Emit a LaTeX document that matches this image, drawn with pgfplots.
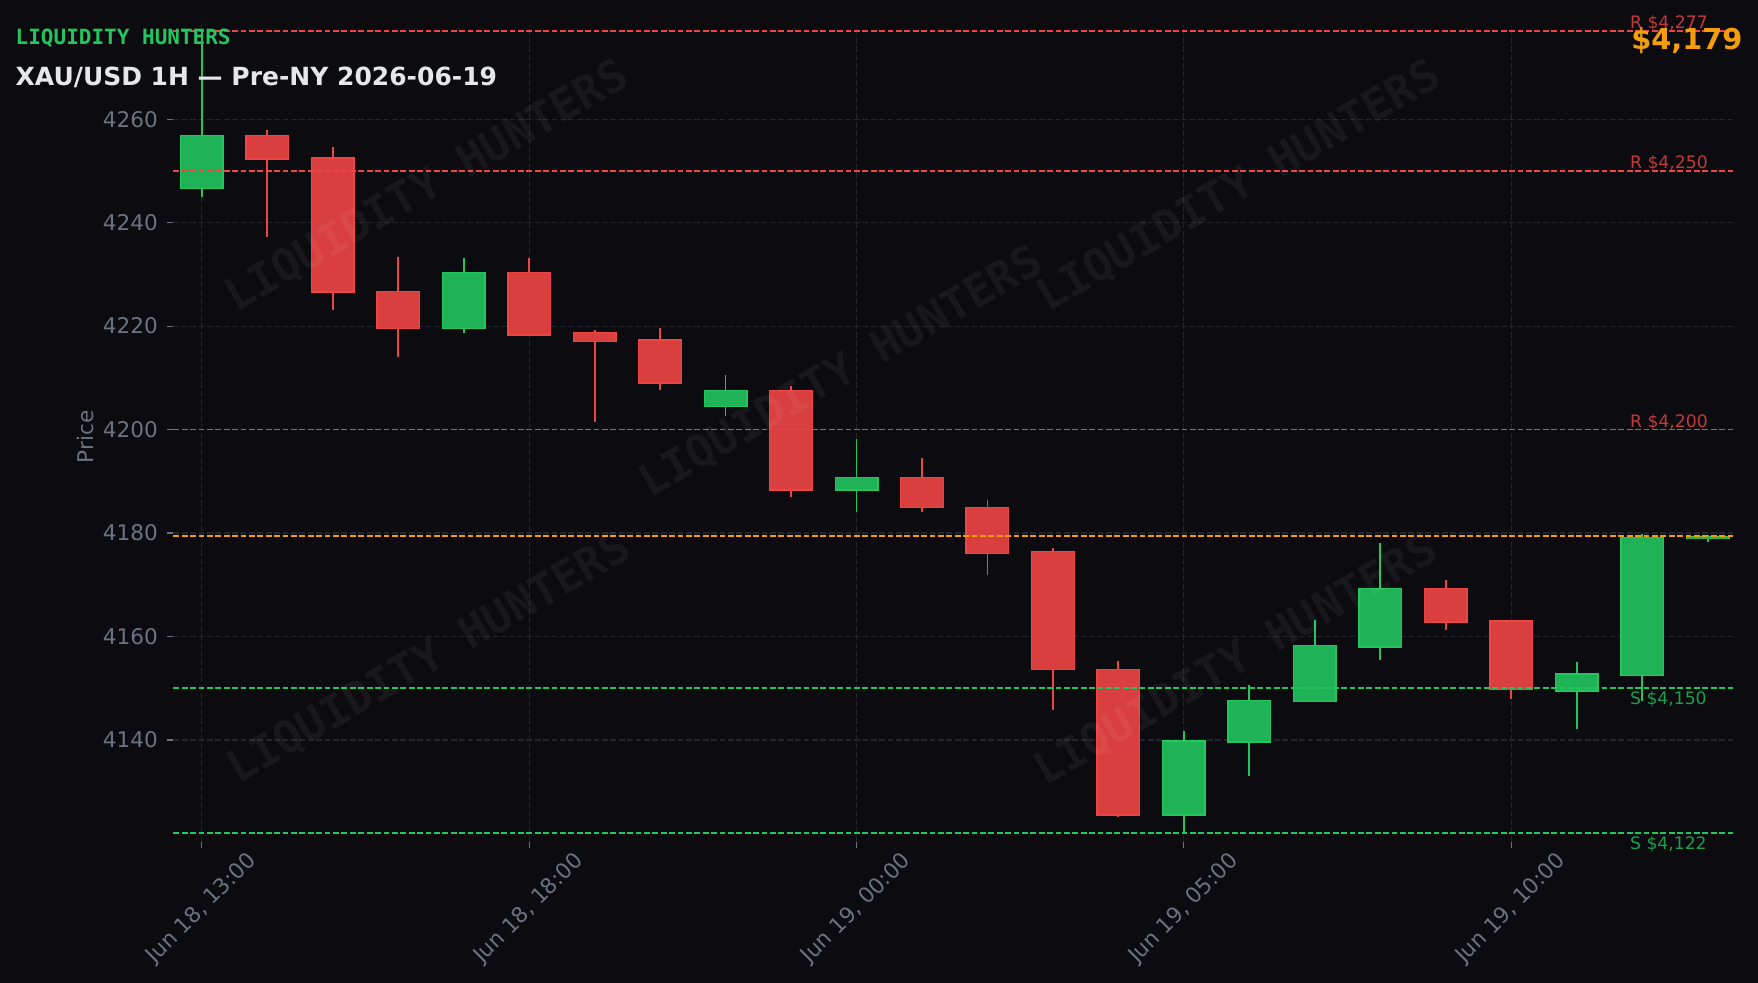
\documentclass[border=0pt]{standalone}
\usepackage{pgfplots}
\pgfplotsset{compat=1.18}
\usepackage{pgfplotstable}
\usepackage{fontspec}
\setmainfont{DejaVu Sans}
\newfontfamily\monofont{DejaVu Sans Mono}

\definecolor{bg}{HTML}{0B0B10}
\definecolor{upc}{HTML}{22C55E}
\definecolor{upfill}{HTML}{1FB257}
\definecolor{dnc}{HTML}{EF4444}
\definecolor{dnfill}{HTML}{D93F3F}
\definecolor{amber}{HTML}{F59E0B}
\definecolor{gridc}{HTML}{23242C}
\definecolor{tickc}{HTML}{6B7280}
\definecolor{titlec}{HTML}{E5E7EB}
\definecolor{rlab}{HTML}{C23A3A}
\definecolor{slab}{HTML}{1C9E4C}

% hourly candles, x = bar index
\pgfplotstableread{
x  o      h      l      c
0  4246.6 4277.0 4245.0 4256.8
4  4219.5 4233.2 4218.7 4230.4
8  4204.5 4210.5 4202.7 4207.5
10 4188.3 4198.2 4184.1 4190.8
15 4125.5 4141.8 4122.0 4139.8
16 4139.6 4150.7 4133.0 4147.7
17 4147.5 4163.3 4147.3 4158.3
18 4158.0 4178.0 4155.4 4169.3
21 4149.5 4155.0 4142.1 4152.8
22 4152.5 4179.9 4147.5 4179.2
23 4178.9 4179.7 4178.2 4179.3
}\upcandles
\pgfplotstableread{
x  o      h      l      c
1  4256.9 4257.9 4237.3 4252.3
2  4252.5 4254.6 4223.2 4226.6
3  4226.7 4233.4 4214.1 4219.5
5  4230.4 4233.2 4218.3 4218.3
6  4218.8 4219.2 4201.5 4217.0
7  4217.3 4219.6 4207.7 4209.0
9  4207.6 4208.4 4187.0 4188.3
11 4190.8 4194.5 4184.1 4185.0
12 4184.9 4186.3 4171.9 4176.1
13 4176.4 4177.2 4145.9 4153.6
14 4153.7 4155.2 4125.2 4125.5
19 4169.3 4170.9 4161.3 4162.8
20 4163.0 4163.0 4148.0 4149.8
}\downcandles

\pgfplotsset{
  wick/.style={draw=none, no markers, forget plot,
    error bars/.cd, y dir=both, y explicit, error mark=none,
    error bar style={draw=#1, line width=0.9pt}},
  body/.style 2 args={draw=none, no markers, forget plot,
    error bars/.cd, y dir=both, y explicit, error mark=none,
    error bar style={draw=#1, line width=#2}},
  level/.style={line width=0.85pt, dash pattern=on 2.9pt off 1.3pt, draw=#1},
}

\begin{document}
\begin{tikzpicture}
\fill[bg] (0,0) rectangle (879pt,491.5pt);

\begin{axis}[
    at={(86.75pt,70.65pt)}, anchor=south west,
    scale only axis, width=780.75pt, height=408.35pt,
    xmin=-0.432, xmax=23.418, ymin=4120.35, ymax=4278.2,
    clip=false,
    axis line style={draw=none},
    tick align=outside, major tick length=3pt,
    xtick pos=bottom, ytick pos=left,
    tick style={draw=tickc, line width=0.6pt},
    xtick={0,5,10,15,20},
    xticklabels={{Jun 18, 13:00},{Jun 18, 18:00},{Jun 19, 00:00},{Jun 19, 05:00},{Jun 19, 10:00}},
    ytick={4140,4160,...,4260},
    grid=major,
    major grid style={draw=gridc, line width=0.6pt, dash pattern=on 2.9pt off 1.3pt},
    tick label style={font=\fontsize{10.8}{13}\selectfont, text=tickc},
    /pgf/number format/assume math mode=true,
    /pgf/number format/1000 sep={},
    xticklabel style={anchor=center, yshift=-30.5pt, rotate=45},
    yticklabel style={anchor=east, inner sep=0pt, xshift=-4.6pt},
  ]
  % wicks
  \addplot[wick=upc] table[x=x, y expr={(\thisrow{h}+\thisrow{l})/2},
      y error expr={(\thisrow{h}-\thisrow{l})/2}] {\upcandles};
  \addplot[wick=dnc] table[x=x, y expr={(\thisrow{h}+\thisrow{l})/2},
      y error expr={(\thisrow{h}-\thisrow{l})/2}] {\downcandles};
  % bodies: edge then fill
  \addplot[body={upc}{22pt}] table[x=x, y expr={(\thisrow{o}+\thisrow{c})/2},
      y error expr={abs(\thisrow{c}-\thisrow{o})/2+0.13}] {\upcandles};
  \addplot[body={upfill}{20.6pt}] table[x=x, y expr={(\thisrow{o}+\thisrow{c})/2},
      y error expr={max(abs(\thisrow{c}-\thisrow{o})/2-0.13,0.02)}] {\upcandles};
  \addplot[body={dnc}{22pt}] table[x=x, y expr={(\thisrow{o}+\thisrow{c})/2},
      y error expr={abs(\thisrow{c}-\thisrow{o})/2+0.13}] {\downcandles};
  \addplot[body={dnfill}{20.6pt}] table[x=x, y expr={(\thisrow{o}+\thisrow{c})/2},
      y error expr={max(abs(\thisrow{c}-\thisrow{o})/2-0.13,0.02)}] {\downcandles};

  % support / resistance / last price
  \addplot[level=dnc] coordinates {(-0.432,4277) (23.418,4277)};
  \addplot[level=dnc] coordinates {(-0.432,4250) (23.418,4250)};
  \addplot[level=dnc] coordinates {(-0.432,4200) (23.418,4200)};
  \addplot[level=upc] coordinates {(-0.432,4150) (23.418,4150)};
  \addplot[level=upc] coordinates {(-0.432,4122) (23.418,4122)};
  \addplot[level=amber] coordinates {(-0.432,4179.4) (23.418,4179.4)};

  \begin{scope}[every node/.style={inner sep=0pt, font=\fontsize{8.6}{10}\selectfont}]
    \node[anchor=base west, text=rlab] at ([yshift=1.2pt]axis cs:21.81,4277) {R \$4,277};
    \node[anchor=base west, text=rlab] at ([yshift=1.2pt]axis cs:21.81,4250) {R \$4,250};
    \node[anchor=base west, text=rlab] at ([yshift=1.2pt]axis cs:21.81,4200) {R \$4,200};
    \node[anchor=north west, text=slab] at ([yshift=-1.6pt]axis cs:21.81,4150) {S \$4,150};
    \node[anchor=north west, text=slab] at ([yshift=-1.6pt]axis cs:21.81,4122) {S \$4,122};
  \end{scope}
\end{axis}

\node[rotate=90, text=tickc, font=\fontsize{10.8}{13}\selectfont] at (42.5pt,273.15pt) {Price};

\node[anchor=base west, inner sep=0pt, text=upc, font=\monofont\bfseries\fontsize{10.5}{12}\selectfont]
  at (7.65pt,469.35pt) {LIQUIDITY HUNTERS};
\node[anchor=base west, inner sep=0pt, text=titlec, font=\bfseries\fontsize{12.5}{15}\selectfont]
  at (7.65pt,448.5pt) {XAU/USD 1H — Pre-NY 2026-06-19};
\node[anchor=base east, inner sep=0pt, text=amber, font=\bfseries\fontsize{14.4}{17}\selectfont]
  at (871.4pt,466.5pt) {\$4,179};

% watermark
\begin{scope}[every node/.style={rotate=30, text=white, opacity=0.05,
    font=\monofont\bfseries\fontsize{22.3}{26}\selectfont}]
  \node at (213.5pt,398pt) {LIQUIDITY HUNTERS};
  \node at (420.5pt,305pt) {LIQUIDITY HUNTERS};
  \node at (619.5pt,398pt) {LIQUIDITY HUNTERS};
  \node at (214.5pt,162pt) {LIQUIDITY HUNTERS};
  \node at (618pt,161pt) {LIQUIDITY HUNTERS};
\end{scope}

\pgfresetboundingbox
\useasboundingbox (0,0) rectangle (879pt,491.5pt);
\end{tikzpicture}
\end{document}
